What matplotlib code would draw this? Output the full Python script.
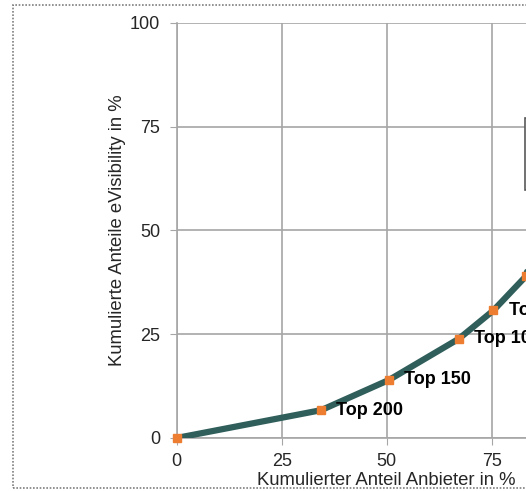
import matplotlib
matplotlib.use('Agg')
from matplotlib import pyplot as plt
from matplotlib.patches import Rectangle

plt.rcParams['font.family'] = ['Liberation Sans', 'DejaVu Sans']

# cumulative share of providers vs cumulative share of eVisibility (Lorenz curve)
anteil_anbieter = [0, 34.4, 50.6, 67.2, 75.4, 83.1, 100]
anteil_visibility = [0, 6.7, 14.0, 23.9, 30.7, 38.9, 100]
labels = ['', 'Top 200', 'Top 150', 'Top 100', 'Top 75', 'Top 50', '']
ticks = [0, 25, 50, 75, 100]

fig = plt.figure(figsize=(5.26, 4.91), dpi=100)
ax = fig.add_axes([0.3359, 0.108, 0.7985, 0.8458])

ax.plot(anteil_anbieter, anteil_visibility, color='#2F5E5B', lw=4.5,
        solid_capstyle='round', solid_joinstyle='round', zorder=3)
ax.plot(anteil_anbieter, anteil_visibility, ls='none', marker='s', ms=5.5,
        color='#ED7D31', zorder=4, clip_on=False)

for x, y, lab in zip(anteil_anbieter, anteil_visibility, labels):
    if lab:
        ax.annotate(lab, (x, y), xytext=(11, 0), textcoords='offset points',
                    va='center', ha='left', fontsize=13, fontweight='bold',
                    color='black', zorder=5)

# box on the right (mostly cut off)
ax.add_patch(Rectangle((82.9, 59.8), 14, 17.3, facecolor='white',
                       edgecolor='#595959', lw=1.2, zorder=2))

ax.set_xlim(0, 100)
ax.set_ylim(0, 100)
ax.set_xticks(ticks)
ax.set_yticks(ticks)
ax.tick_params(axis='both', length=5, color='#A6A6A6', labelsize=13,
               labelcolor='#262626', pad=7)
ax.tick_params(axis='x', pad=6)
ax.grid(True, color='#A6A6A6', lw=1.2)
ax.set_axisbelow(True)
for s in ['top', 'right']:
    ax.spines[s].set_visible(False)
for s in ['left', 'bottom']:
    ax.spines[s].set_color('#A6A6A6')
    ax.spines[s].set_linewidth(1.2)

ax.set_xlabel('Kumulierter Anteil Anbieter in %', fontsize=13.3, color='#262626')
ax.set_ylabel('Kumulierte Anteile eVisibility in %', fontsize=13.3, color='#262626')
ax.xaxis.set_label_coords(0.5, -0.083)
ax.yaxis.set_label_coords(-0.12, 0.5)

# dotted frame around the chart
fig.patches.append(Rectangle((0.0247, 0.0061), 1.2, 0.9827, transform=fig.transFigure,
                             fill=False, edgecolor='#7F7F7F', lw=1.2, ls=(0, (1, 1))))

fig.savefig('out.png', dpi=100)
